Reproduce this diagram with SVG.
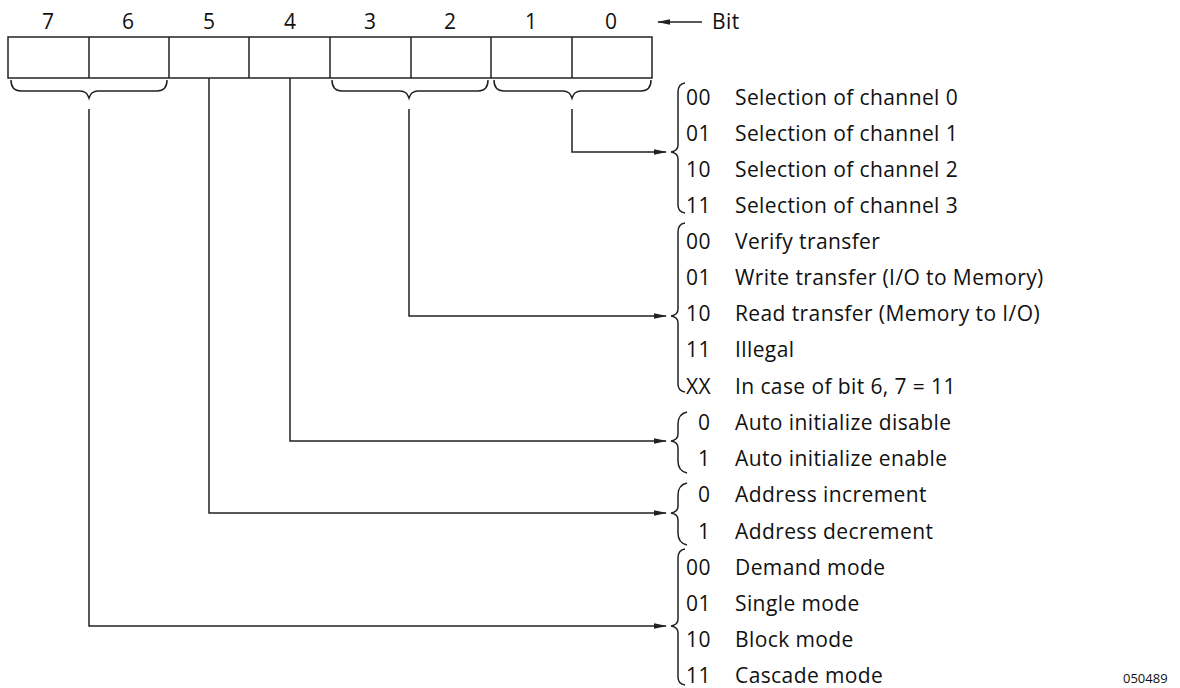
<svg xmlns="http://www.w3.org/2000/svg" width="1180" height="688" viewBox="0 0 1180 688">
<style>
.t{font-family:"Open Sans","Noto Sans",sans-serif;font-size:21px;fill:#111;letter-spacing:0.4px}
.b{font-family:"Open Sans","Noto Sans",sans-serif;font-size:21px;fill:#111;text-anchor:middle}
.c{fill:none;stroke:#222;stroke-width:1.5}
.s{font-family:"Open Sans","Noto Sans",sans-serif;font-size:13px;fill:#111}
</style>
<defs>
<marker id="ah" markerWidth="13" markerHeight="8" refX="12" refY="4" orient="auto" markerUnits="userSpaceOnUse">
<path d="M0,1.2 L13,4 L0,6.8 Z" fill="#222"/>
</marker>
</defs>
<rect width="1180" height="688" fill="#fff"/>
<g id="register">
<rect class="c" x="8" y="37" width="644" height="41"/>
<path class="c" d="M89,37V78M169,37V78M249,37V78M330,37V78M411,37V78M491,37V78M572,37V78"/>
<text class="b" x="48" y="29">7</text>
<text class="b" x="128" y="29">6</text>
<text class="b" x="209" y="29">5</text>
<text class="b" x="290" y="29">4</text>
<text class="b" x="370" y="29">3</text>
<text class="b" x="450" y="29">2</text>
<text class="b" x="531" y="29">1</text>
<text class="b" x="611" y="29">0</text>
</g>
<g id="bit-label">
<line class="c" x1="702" y1="22" x2="658" y2="22" marker-end="url(#ah)"/>
<text class="t" x="712" y="29">Bit</text>
</g>
<g id="under-braces">
<path class="c" d="M11,80 Q11,91 21,91 L80,91 Q87,91 89,98 Q91,91 98,91 L157,91 Q167,91 167,80"/>
<path class="c" d="M332,80 Q332,91 342,91 L400,91 Q407,91 409,98 Q411,91 418,91 L478,91 Q488,91 488,80"/>
<path class="c" d="M494,80 Q494,91 504,91 L563,91 Q570,91 572,98 Q574,91 581,91 L641,91 Q651,91 651,80"/>
</g>
<g id="connectors">
<path class="c" d="M572,109 V152 H666" marker-end="url(#ah)"/>
<path class="c" d="M409,109 V316 H666" marker-end="url(#ah)"/>
<path class="c" d="M290,78 V441 H666" marker-end="url(#ah)"/>
<path class="c" d="M209,78 V513 H666" marker-end="url(#ah)"/>
<path class="c" d="M89,109 V626 H666" marker-end="url(#ah)"/>
</g>
<g id="channel">
<path class="c" d="M685,83 Q678,84 678,92 V145 Q678,151 671,152 Q678,153 678,159 V205 Q678,212 685,213"/>
<text class="t" x="686" y="105">00</text><text class="t" x="735" y="105">Selection of channel 0</text>
<text class="t" x="686" y="141">01</text><text class="t" x="735" y="141">Selection of channel 1</text>
<text class="t" x="686" y="177">10</text><text class="t" x="735" y="177">Selection of channel 2</text>
<text class="t" x="686" y="213">11</text><text class="t" x="735" y="213">Selection of channel 3</text>
</g>
<g id="transfer">
<path class="c" d="M685,223 Q678,224 678,232 V309 Q678,315 671,316 Q678,317 678,323 V384 Q678,391 685,392"/>
<text class="t" x="686" y="249">00</text><text class="t" x="735" y="249">Verify transfer</text>
<text class="t" x="686" y="285">01</text><text class="t" x="735" y="285">Write transfer (I/O to Memory)</text>
<text class="t" x="686" y="321">10</text><text class="t" x="735" y="321">Read transfer (Memory to I/O)</text>
<text class="t" x="686" y="357">11</text><text class="t" x="735" y="357">Illegal</text>
<text class="t" x="686" y="394">XX</text><text class="t" x="735" y="394">In case of bit 6, 7 = 11</text>
</g>
<g id="autoinit">
<path class="c" d="M687,412 Q678,414 678,424 V434 Q678,440 671,441 Q678,442 678,448 V461 Q678,471 687,473"/>
<text class="t" x="698" y="430">0</text><text class="t" x="735" y="430">Auto initialize disable</text>
<text class="t" x="698" y="466">1</text><text class="t" x="735" y="466">Auto initialize enable</text>
</g>
<g id="address">
<path class="c" d="M687,483 Q678,485 678,495 V506 Q678,512 671,513 Q678,514 678,520 V533 Q678,543 687,545"/>
<text class="t" x="698" y="502">0</text><text class="t" x="735" y="502">Address increment</text>
<text class="t" x="698" y="539">1</text><text class="t" x="735" y="539">Address decrement</text>
</g>
<g id="mode">
<path class="c" d="M685,549 Q678,550 678,558 V619 Q678,625 671,626 Q678,627 678,633 V677 Q678,684 685,685"/>
<text class="t" x="686" y="575">00</text><text class="t" x="735" y="575">Demand mode</text>
<text class="t" x="686" y="611">01</text><text class="t" x="735" y="611">Single mode</text>
<text class="t" x="686" y="647">10</text><text class="t" x="735" y="647">Block mode</text>
<text class="t" x="686" y="683">11</text><text class="t" x="735" y="683">Cascade mode</text>
</g>
<text class="s" x="1123" y="683">050489</text>
</svg>
